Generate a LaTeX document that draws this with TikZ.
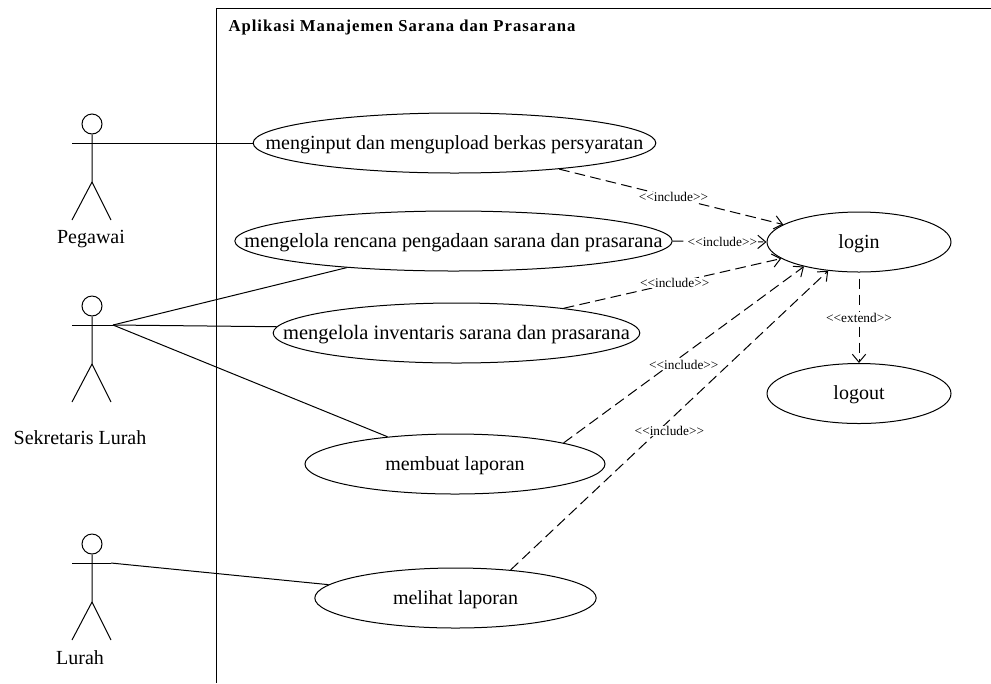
\documentclass[tikz,border=0pt]{standalone}
\usepackage{fontspec}
\setmainfont{Liberation Serif}
\usetikzlibrary{arrows.meta,shapes.geometric}

\begin{document}
\begin{tikzpicture}[x=0.75pt,y=-0.75pt,line width=0.75pt,>={Straight Barb[length=6pt,width=10pt]}]
        \tikzstyle{usecase}=[ellipse,draw=black,inner sep=0pt,minimum height=45pt]
        \tikzstyle{head}=[circle,draw=black,inner sep=0pt,minimum size=15pt]
        \tikzstyle{point}=[inner sep=0pt,minimum size=0pt]
        \tikzstyle{usetext}=[yshift=-1pt,font=\fontsize{15pt}{17pt}\selectfont]
        \tikzstyle{actorname}=[font=\fontsize{15pt}{17pt}\selectfont]
        \tikzstyle{stereo}=[fill=white,inner sep=0.5pt,font=\fontsize{10pt}{11pt}\selectfont]
        \tikzstyle{dep}=[dash pattern=on 8pt off 4pt,->]
        \useasboundingbox (0,0) rectangle (991,683);
        % system boundary
        \node[point] (tl) at (216,8) {};
        \node[point] (tr) at (991,8) {};
        \node[point] (bl) at (216,683) {};
        \draw (tr.center) -- (tl.center) -- (bl.center);
        \node[anchor=west,inner sep=0pt,font=\fontsize{12.5pt}{14pt}\selectfont\bfseries\addfontfeatures{LetterSpace=6}] (title) at (228,27) {Aplikasi Manajemen Sarana dan Prasarana};
        % actors
        \node[head] (pegawai) at (92,124) {};
        \node[point] (pegawaiL) at (72,143) {};
        \node[point] (pegawaiR) at (111,143) {};
        \node[point] (pegawaiH) at (92,182) {};
        \node[point] (pegawaiA) at (72,220) {};
        \node[point] (pegawaiB) at (111,220) {};
        \draw (pegawai.south) -- (pegawaiH.center) -- (pegawaiA.center);
        \draw (pegawaiH.center) -- (pegawaiB.center);
        \draw (pegawaiL.center) -- (pegawaiR.center);
        \node[actorname] (pegawaiT) at (91,239) {Pegawai};
        \node[head] (sekretaris) at (92,306) {};
        \node[point] (sekretarisL) at (72,325) {};
        \node[point] (sekretarisR) at (113,325) {};
        \node[point] (sekretarisH) at (92,364) {};
        \node[point] (sekretarisA) at (72,402) {};
        \node[point] (sekretarisB) at (111,402) {};
        \draw (sekretaris.south) -- (sekretarisH.center) -- (sekretarisA.center);
        \draw (sekretarisH.center) -- (sekretarisB.center);
        \draw (sekretarisL.center) -- (sekretarisR.center);
        \node[actorname] (sekretarisT) at (80,438) {Sekretaris Lurah};
        \node[head] (lurah) at (92,544) {};
        \node[point] (lurahL) at (72,563) {};
        \node[point] (lurahR) at (111,563) {};
        \node[point] (lurahH) at (92,602) {};
        \node[point] (lurahA) at (72,640) {};
        \node[point] (lurahB) at (111,640) {};
        \draw (lurah.south) -- (lurahH.center) -- (lurahA.center);
        \draw (lurahH.center) -- (lurahB.center);
        \draw (lurahL.center) -- (lurahR.center);
        \node[actorname] (lurahT) at (80,658) {Lurah};
        % use cases
        \node[usecase,minimum width=302pt,label={[usetext]center:menginput dan mengupload berkas persyaratan}] (upload) at (454.5,143) {};
        \node[usecase,minimum width=328pt,label={[usetext,font=\fontsize{15.2pt}{17pt}\selectfont]center:mengelola rencana pengadaan sarana dan prasarana}] (rencana) at (453.5,241) {};
        \node[usecase,minimum width=275pt,label={[usetext,font=\fontsize{15.35pt}{17pt}\selectfont]center:mengelola inventaris sarana dan prasarana}] (inventaris) at (456.5,333) {};
        \node[usecase,minimum width=225pt,label={[usetext]center:membuat laporan}] (membuat) at (455,464) {};
        \node[usecase,minimum width=211pt,label={[usetext]center:melihat laporan}] (melihat) at (455.5,598) {};
        \node[usecase,minimum width=138pt,label={[usetext]center:login}] (login) at (859,242) {};
        \node[usecase,minimum width=138pt,label={[usetext]center:logout}] (logout) at (859,393.5) {};
        % associations
        \draw (pegawaiR.center) -- (upload.west);
        \draw (sekretarisR.center) -- (rencana.194);
        \draw (sekretarisR.center) -- (inventaris.178);
        \draw (sekretarisR.center) -- (membuat.158);
        \draw (lurahR.center) -- (melihat.174);
        % dependencies
        \draw[dep] (upload.-14) -- (login.167) node [stereo,pos=0.51] (inc1) {<{}<include>{}>};
        \draw[dep] (rencana.east) -- (login.west) node [stereo,pos=0.53] (inc2) {<{}<include>{}>};
        \draw[dep] (inventaris.13) -- (login.192) node [stereo,pos=0.51] (inc3) {<{}<include>{}>};
        \draw[dep] (membuat.11) -- (login.204) node [stereo,pos=0.5,yshift=-7.5pt] (inc4) {<{}<include>{}>};
        \draw[dep] (melihat.27) -- (login.223) node [stereo,pos=0.5,yshift=-8pt] (inc5) {<{}<include>{}>};
        \draw[dep,shorten <=4.5pt] (login.south) -- (logout.north) node [stereo,midway] (ext) {<{}<extend>{}>};
    \end{tikzpicture}
\end{document}
